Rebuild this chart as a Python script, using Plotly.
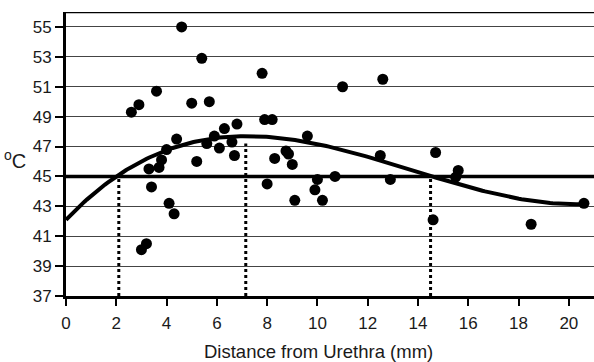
import numpy as np
import plotly.graph_objects as go

# ---- data ----
distance_mm = [2.6, 2.9, 3.0, 3.2, 3.3, 3.4, 3.6, 3.7, 3.8, 4.0,
               4.1, 4.3, 4.4, 4.6, 5.0, 5.2, 5.4, 5.6, 5.7, 5.9,
               6.1, 6.3, 6.6, 6.7, 6.8, 7.8, 7.9, 8.0, 8.2, 8.3,
               8.75, 8.85, 9.0, 9.1, 9.6, 9.9, 10.0, 10.2, 10.7, 11.0,
               12.5, 12.6, 12.9, 14.6, 14.7, 15.5, 15.6, 18.5, 20.6]
temperature_c = [49.3, 49.8, 40.1, 40.5, 45.5, 44.3, 50.7, 45.6, 46.1, 46.8,
                 43.2, 42.5, 47.5, 55.0, 49.9, 46.0, 52.9, 47.2, 50.0, 47.7,
                 46.9, 48.2, 47.3, 46.4, 48.5, 51.9, 48.8, 44.5, 48.8, 46.2,
                 46.7, 46.5, 45.8, 43.4, 47.7, 44.1, 44.8, 43.4, 45.0, 51.0,
                 46.4, 51.5, 44.8, 42.1, 46.6, 44.95, 45.4, 41.8, 43.2]

# cubic trendline coefficients (highest power first)
trend_coef = [0.00402, -0.166, 1.764, 42.1]
trend_x_range = [0.0, 20.6]

threshold_c = 45
crossing_x = [2.1, 7.15, 14.5]
crossing_top = [45.0, 47.2, 45.0]

x_ticks = [0, 2, 4, 6, 8, 10, 12, 14, 16, 18, 20]
y_ticks = [37, 39, 41, 43, 45, 47, 49, 51, 53, 55]
x_range = [0, 21]
y_range = [37, 56]

FONT = "Liberation Sans, Arial, sans-serif"
TXT = "#1a1a1a"

fig = go.Figure()

# dotted verticals
for cx, ct in zip(crossing_x, crossing_top):
    fig.add_trace(go.Scatter(
        x=[cx, cx], y=[y_range[0], ct], mode="lines",
        line=dict(color="black", width=3, dash="dot"),
        hoverinfo="skip", showlegend=False))

# threshold line
fig.add_trace(go.Scatter(
    x=x_range, y=[threshold_c, threshold_c], mode="lines",
    line=dict(color="black", width=3.5), hoverinfo="skip", showlegend=False))

# trendline
tx = np.linspace(trend_x_range[0], trend_x_range[1], 200)
ty = np.polyval(trend_coef, tx)
fig.add_trace(go.Scatter(
    x=tx, y=ty, mode="lines", line=dict(color="black", width=4),
    hoverinfo="skip", showlegend=False))

# data points
fig.add_trace(go.Scatter(
    x=distance_mm, y=temperature_c, mode="markers",
    marker=dict(color="black", size=11), cliponaxis=False, showlegend=False))

fig.update_layout(
    width=594, height=362,
    margin=dict(l=66, r=0, t=12, b=66),
    paper_bgcolor="white", plot_bgcolor="white",
    font=dict(family=FONT, size=17, color=TXT),
    showlegend=False,
    xaxis=dict(range=x_range, tickvals=x_ticks, showgrid=False, zeroline=False,
               showline=True, linecolor="black", linewidth=3,
               ticks="outside", ticklen=7, tickwidth=2, tickcolor="black",
               ticklabelstandoff=3,
               tickfont=dict(family=FONT, size=17, color=TXT)),
    yaxis=dict(range=y_range, tickvals=y_ticks, showgrid=True,
               gridcolor="#444", gridwidth=1.3, zeroline=False,
               showline=True, linecolor="black", linewidth=3,
               ticks="outside", ticklen=8, tickwidth=2, tickcolor="black",
               tickfont=dict(family=FONT, size=17, color=TXT)),
    shapes=[dict(type="line", xref="paper", yref="y", x0=0, x1=1,
                 y0=y_range[1], y1=y_range[1],
                 line=dict(color="black", width=2.5))],
    annotations=[
        dict(text="Distance from Urethra (mm)", xref="paper", yref="paper",
             x=0.479, y=-0.197, showarrow=False, xanchor="center", yanchor="middle",
             font=dict(family=FONT, size=18.5, color=TXT)),
        dict(text="<sup>o</sup>C", xref="paper", yref="paper",
             x=-0.097, y=0.48, showarrow=False, xanchor="center", yanchor="middle",
             font=dict(family=FONT, size=20, color=TXT)),
    ],
)

fig.write_html("out.html",
               config={"displayModeBar": False},
               post_script="document.body.style.margin='0px';"
                           "document.body.style.overflow='hidden';")
